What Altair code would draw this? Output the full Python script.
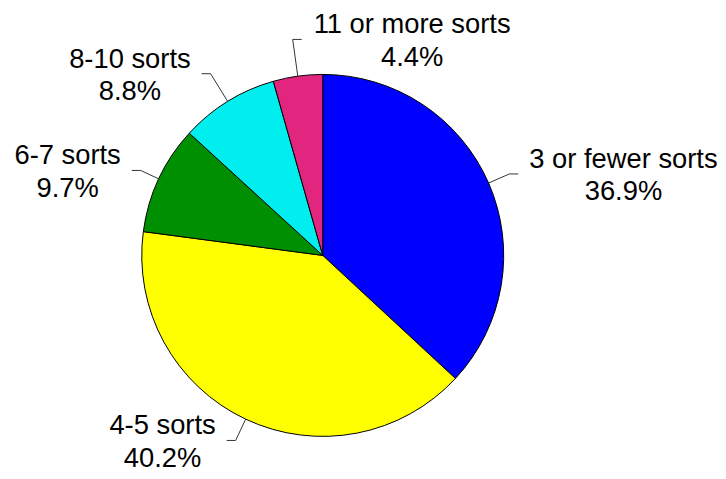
import math
import altair as alt
import pandas as pd

# ---- data ----
categories = ["3 or fewer sorts", "4-5 sorts", "6-7 sorts", "8-10 sorts", "11 or more sorts"]
percents = [36.9, 40.2, 9.7, 8.8, 4.4]
colors = ["#0000FF", "#FFFF00", "#008F00", "#00EEEE", "#E2267F"]

# ---- layout ----
W, H = 714, 463
CX, CY, R = 316.5, 247.5, 182
elbow_factor = [1.125, 1.13, 1.11, 1.18, 1.205]
label_side = [1, -1, -1, -1, 1]
TAIL, GAP = 9, 11
FS, LH = 27.5, 32.5
FONT = "Liberation Sans"

CW = {str(d): 0.556 for d in range(10)}
CW.update({" ": 0.278, "-": 0.333, ".": 0.278, "%": 0.889, "o": 0.556, "r": 0.333,
           "f": 0.278, "e": 0.556, "w": 0.722, "s": 0.5, "t": 0.278, "m": 0.833})


def text_w(s):
    return sum(CW.get(c, 0.556) for c in s) * FS


total = sum(percents)
pie_df = pd.DataFrame({"category": categories, "value": percents, "order": range(len(categories))})

lead_rows, label_rows = [], []
cum = 0.0
for i, (cat, p) in enumerate(zip(categories, percents)):
    mid = (cum + p / 2) / total * 2 * math.pi
    cum += p
    sx, sy = CX + R * math.sin(mid), CY - R * math.cos(mid)
    er = R * elbow_factor[i]
    ex, ey = CX + er * math.sin(mid), CY - er * math.cos(mid)
    tx = ex + label_side[i] * TAIL
    for k, (x, y) in enumerate([(sx, sy), (ex, ey), (tx, ey)]):
        lead_rows.append({"id": cat, "seq": k, "x": x, "y": y})
    pct = f"{p:.1f}%"
    w = max(text_w(cat), text_w(pct))
    lx = tx + label_side[i] * (GAP + w / 2)
    label_rows.append({"label": cat + "\n" + pct, "x": lx, "y": ey - 6})

lead_df = pd.DataFrame(lead_rows)
label_df = pd.DataFrame(label_rows)

xs = alt.Scale(domain=[0, W], range=[0, W], nice=False, zero=False)
ys = alt.Scale(domain=[0, H], range=[0, H], nice=False, zero=False)

pie = alt.Chart(pie_df).mark_arc(radius=R, stroke="black", strokeWidth=1).encode(
    theta=alt.Theta("value:Q", stack=True),
    order=alt.Order("order:Q"),
    color=alt.Color("category:N", scale=alt.Scale(domain=categories, range=colors), legend=None),
    x=alt.value(CX),
    y=alt.value(CY),
)

leaders = alt.Chart(lead_df).mark_line(color="#333333", strokeWidth=1).encode(
    x=alt.X("x:Q", scale=xs, axis=None),
    y=alt.Y("y:Q", scale=ys, axis=None),
    detail="id:N",
    order="seq:Q",
)

labels = alt.Chart(label_df).mark_text(
    align="center", baseline="alphabetic", fontSize=FS, font=FONT,
    lineHeight=LH, lineBreak="\n", color="black",
).encode(
    x=alt.X("x:Q", scale=xs, axis=None),
    y=alt.Y("y:Q", scale=ys, axis=None),
    text="label:N",
)

chart = alt.layer(pie, leaders, labels).properties(
    width=W, height=H, autosize=alt.AutoSizeParams(type="none"), padding=0,
    background="white",
).configure_view(stroke=None)

chart.save("out.html", embed_options={"renderer": "svg", "actions": False})
